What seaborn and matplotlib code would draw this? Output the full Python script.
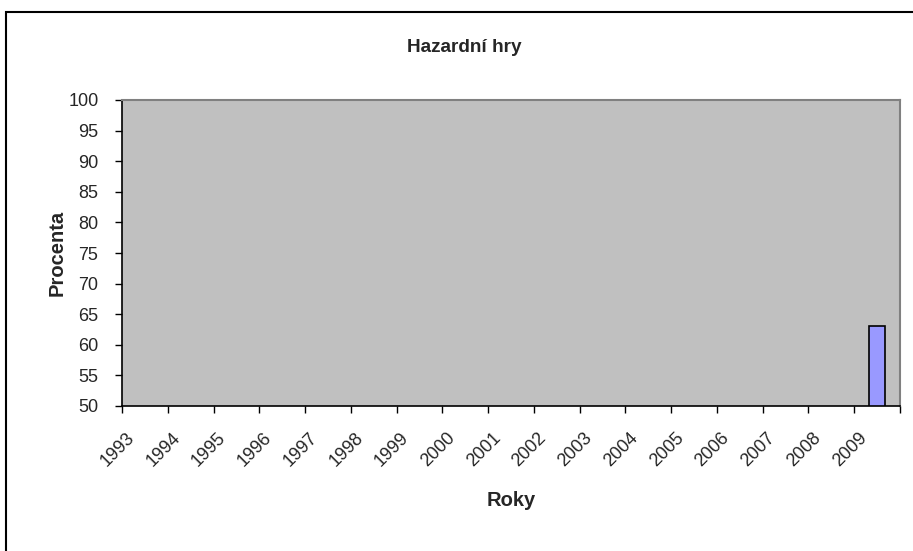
import numpy as np
import pandas as pd
import matplotlib
matplotlib.use("Agg")
import matplotlib.pyplot as plt
import matplotlib.transforms as mtransforms
from matplotlib.patches import Rectangle
from matplotlib.ticker import FixedLocator
import seaborn as sns

# Data
years = [str(y) for y in range(1993, 2010)]
bar_years = ["2009"]
bar_values = [63]

df = pd.DataFrame({"rok": bar_years, "procenta": bar_values})

sns.set_style("white")
plt.rcParams["font.family"] = ["Liberation Sans", "DejaVu Sans"]

fig = plt.figure(figsize=(9.13, 5.51), dpi=100)
ax = fig.add_axes([122 / 913, 1 - 406 / 551, (900 - 122) / 913, (406 - 100) / 551])

sns.barplot(data=df, x="rok", y="procenta", order=years, color="#9999FF",
            edgecolor="black", linewidth=1.2, width=0.35, saturation=1, ax=ax)

ax.set_facecolor("#C0C0C0")
ax.set_xlim(-0.5, len(years) - 0.5)
ax.set_ylim(50, 100)
ax.set_yticks(range(50, 101, 5))

# kategorie: popisky uprostred, carky mezi kategoriemi
ax.set_xticks(range(len(years)))
ax.set_xticklabels(years, rotation=45, ha="right", va="top", fontsize=13)
ax.xaxis.set_minor_locator(FixedLocator(np.arange(-0.5, len(years), 1.0)))
ax.tick_params(axis="x", which="major", length=0, pad=17)
ax.tick_params(axis="x", which="minor", length=5, width=1, color="black", bottom=True)
ax.tick_params(axis="y", length=5, width=1, color="black", labelsize=13, pad=12, left=True)
offset = mtransforms.ScaledTranslation(-7 / 100, 0, fig.dpi_scale_trans)
for lbl in ax.get_xticklabels():
    lbl.set_transform(lbl.get_transform() + offset)

for side in ["top", "right"]:
    ax.spines[side].set_color("#808080")
    ax.spines[side].set_linewidth(1.5)
for side in ["left", "bottom"]:
    ax.spines[side].set_color("black")
    ax.spines[side].set_linewidth(1.2)

ax.set_xlabel("Roky", fontsize=14.5, fontweight="bold", va="center")
ax.set_ylabel("Procenta", fontsize=14.5, fontweight="bold", va="center")
ax.xaxis.set_label_coords((511 - 122) / 778, (406 - 500) / 306)
ax.yaxis.set_label_coords((57 - 122) / 778, (406 - 253) / 306)
fig.text(464 / 913, 1 - 48 / 551, "Hazardní hry", ha="center", va="center",
         fontsize=13.7, fontweight="bold")

# ramecek grafu
fig.patches.append(Rectangle((6 / 913, -0.1), 1.2, 1 - 12 / 551 + 0.1,
                             transform=fig.transFigure, fill=False,
                             edgecolor="black", linewidth=1.5, clip_on=False))

fig.savefig("out.png", dpi=100, facecolor="white")
